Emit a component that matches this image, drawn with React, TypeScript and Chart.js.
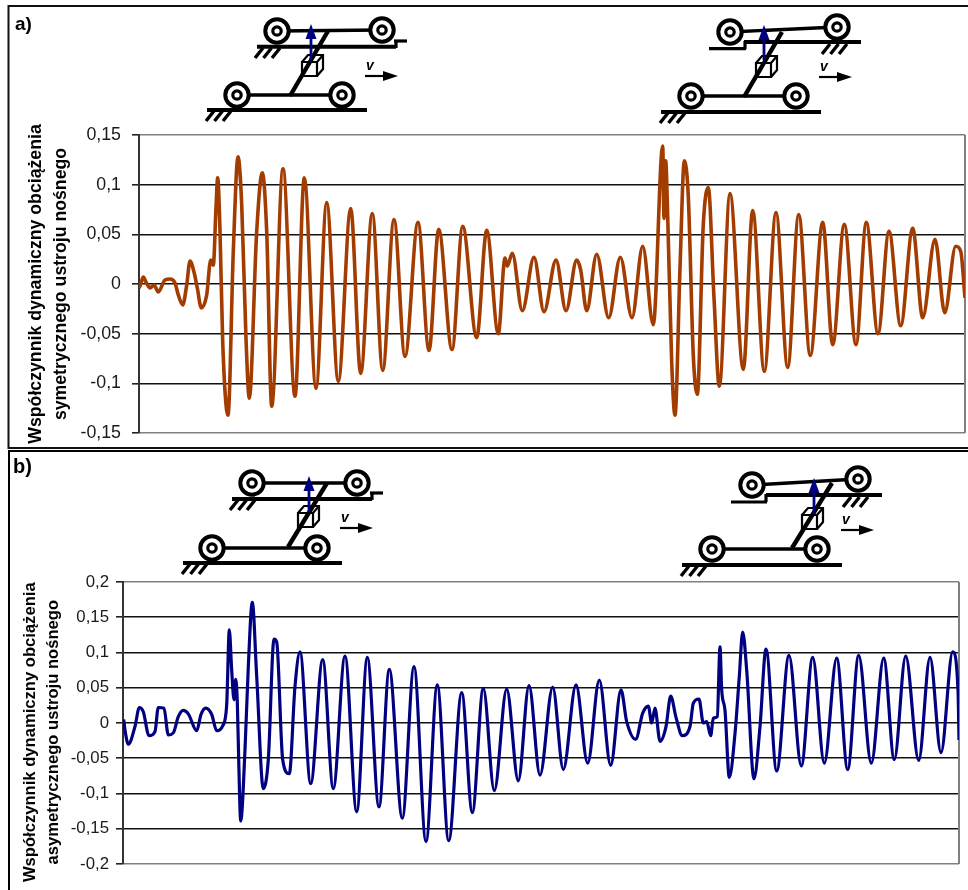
import React, { useEffect, useRef } from "react";
import { Chart, registerables } from "chart.js";

Chart.register(...registerables);

// ---- Chart a) symmetric carrier ----
const symSamples = [
  0, 1.7, 4.3, 7, 11, 15, 19.3, 26, 31, 36, 39.3, 43.7, 47.7, 51, 55, 58.3, 62.3, 67.7, 71.7, 74.3,
  77, 78.7, 81, 83.7, 89, 94.3, 99, 102.7, 107, 110.3, 117.7, 123.3, 127.7, 132.7, 144, 156, 165.3, 177, 187.7,
  199.3, 211.7, 221.7, 233.3, 243.7, 255, 266, 279, 290, 299.7, 313, 323.7, 337.7, 347.7, 359.3,
  366, 368.3, 373.3, 383.3, 395, 405, 417, 427, 437.7, 441.7, 447.7, 457.7, 469.7, 481.3, 493, 503.7,
  514.3, 523.7, 525, 526.7, 528.3, 532.7, 536, 541, 545.3, 549.3, 554.3, 558.3, 564.3, 569.3, 575, 580.3,
  591, 604.3, 613.7, 625.3, 637, 648.7, 659.7, 671.3, 683.7, 693.7, 705.3, 717, 727.3, 739, 750, 761.7,
  773.7, 783.7, 796, 805.7, 816.7, 821.7, 826,
];
const symValues = [
  -0.004, 0, 0.007, 0.002, -0.004, -0.001, -0.008, 0.004, 0.005, 0.001, -0.011, -0.021, -0.001, 0.023, 0.012, -0.004, -0.024, -0.011, 0.024, 0.019,
  0.077, 0.107, 0.053, -0.058, -0.132, 0.033, 0.128, 0.08, -0.055, -0.115, 0.053, 0.112, 0.053, -0.123, 0.116, -0.113, 0.107, -0.105, 0.082,
  -0.098, 0.076, -0.09, 0.071, -0.087, 0.065, -0.073, 0.062, -0.067, 0.055, -0.066, 0.058, -0.054, 0.054, -0.05,
  0.026, 0.018, 0.031, -0.027, 0.027, -0.028, 0.024, -0.027, 0.024, 0.014, -0.027, 0.03, -0.034, 0.027, -0.034, 0.038,
  -0.041, 0.139, 0.066, 0.124, 0.083, -0.079, -0.132, 0.016, 0.124, 0.088, -0.072, -0.111, 0.06, 0.097, -0.014, -0.103,
  0.091, -0.086, 0.074, -0.088, 0.072, -0.084, 0.07, -0.072, 0.062, -0.061, 0.06, -0.061, 0.062, -0.05, 0.053, -0.042,
  0.056, -0.034, 0.045, -0.029, 0.038, 0.033, -0.014,
];

// ---- Chart b) asymmetric carrier ----
const asymSamples = [
  0.7, 2, 5.3, 12, 16.3, 20.3, 26, 32, 35.3, 41, 45.3, 50.3, 55.3, 60.3, 65.3, 73.7, 78, 82.7, 88.7, 93.7, 99.7, 103.7,
  106.3, 108.7, 111, 112.7, 114.3, 115.7, 117.7, 122, 125.3, 129.3, 133.7, 140.3, 145.3, 151, 153.7, 159.7, 166.3, 172, 177, 187.7,
  199.7, 210.3, 222, 233.7, 244.3, 256, 266.3, 279.3, 291, 303, 314.3, 325.7, 338.7, 349.3, 360.3, 371.3, 383.7, 395.3,
  406, 417, 429.7, 440.3, 453, 464.7, 476.3, 487.7, 498, 503.7, 512.7, 519.7, 525.3, 528.7, 532, 537, 543, 547.7, 553,
  559.3, 567, 570.3, 576, 580.3, 583.7, 587.7, 590.3, 594.3, 597, 598.7, 602, 606.3, 612, 616.3, 619.7, 623.7, 631, 637,
  643, 653.7, 666, 678.3, 689.7, 701.3, 713.7, 724.7, 735.7, 748.3, 760.7, 771.3, 782.7, 795.7, 807, 818, 829.7, 835, 836,
];
const asymValues = [
  0.005, -0.01, -0.03, -0.005, 0.022, 0.016, -0.018, -0.012, 0.022, 0.021, -0.017, -0.014, 0.009, 0.018, 0.013, -0.011, 0.012, 0.021, 0.012, -0.011, -0.004, 0.026,
  0.132, 0.075, 0.033, 0.062, 0.03, -0.052, -0.139, -0.038, 0.08, 0.171, 0.066, -0.093, -0.052, 0.119, 0.115, -0.052, -0.072, 0.052, 0.101, -0.086,
  0.09, -0.093, 0.095, -0.126, 0.093, -0.119, 0.076, -0.135, 0.08, -0.168, 0.054, -0.167, 0.043, -0.127, 0.049, -0.096, 0.048, -0.082,
  0.053, -0.074, 0.051, -0.066, 0.054, -0.057, 0.061, -0.06, 0.047, 0.002, -0.023, 0.014, 0.024, 0, 0.021, -0.026, -0.005, 0.038, 0.008,
  -0.018, -0.005, 0.028, 0.034, 0, 0.002, -0.018, 0.007, 0.009, 0.108, 0.047, 0.018, -0.077, -0.015, 0.066, 0.129, 0.075, -0.079, -0.005,
  0.105, -0.068, 0.096, -0.061, 0.093, -0.057, 0.092, -0.066, 0.096, -0.057, 0.092, -0.052, 0.095, -0.053, 0.093, -0.042, 0.101, 0.047, -0.024,
];

const symTitle = ["Współczynnik dynamiczny obciążenia", "symetrycznego ustroju nośnego"];
// trailing spaces move the centred title slightly down along the axis, as in the picture
const asymTitle = ["Współczynnik dynamiczny obciążenia    ", "asymetrycznego ustroju nośnego    "];

const FONT = "'Liberation Sans', Arial, sans-serif";

const pairs = (xs: number[], ys: number[]) => xs.map((x, i) => ({ x, y: ys[i] }));
const commaLabel = (v: number | string) => String(+Number(v).toFixed(2)).replace(".", ",");

const rightBorder = {
  id: "rightBorder",
  beforeDatasetsDraw(chart: any) {
    const { ctx, chartArea: a } = chart;
    ctx.save();
    ctx.strokeStyle = "#808080";
    ctx.lineWidth = 2;
    ctx.beginPath();
    ctx.moveTo(a.right, a.top);
    ctx.lineTo(a.right, a.bottom);
    ctx.stroke();
    ctx.restore();
  },
};

type PanelProps = {
  top: number;
  height: number;
  xs: number[];
  ys: number[];
  color: string;
  lineWidth: number;
  xMax: number;
  yLimit: number;
  step: number;
  title: string[];
  axisWidth: number;
  pad: { top: number; bottom: number; right: number };
  titleFont: number;
  titleLine: number;
  titlePad: number;
  tickFont: number;
  tickPad: number;
};

function Panel(p: PanelProps) {
  const ref = useRef<HTMLCanvasElement>(null);
  useEffect(() => {
    const chart = new Chart(ref.current as HTMLCanvasElement, {
      type: "line",
      data: {
        datasets: [
          {
            data: pairs(p.xs, p.ys),
            borderColor: p.color,
            borderWidth: p.lineWidth,
            pointRadius: 0,
            cubicInterpolationMode: "monotone",
            fill: false,
          },
        ],
      },
      options: {
        animation: false,
        responsive: false,
        events: [],
        layout: { padding: { top: p.pad.top, bottom: p.pad.bottom, right: p.pad.right, left: 0 } },
        plugins: { legend: { display: false }, tooltip: { enabled: false }, title: { display: false } },
        scales: {
          x: { type: "linear", display: false, min: 0, max: p.xMax },
          y: {
            min: -p.yLimit,
            max: p.yLimit,
            afterFit(scale: any) {
              scale.width = p.axisWidth;
              scale.paddingTop = 0;
              scale.paddingBottom = 0;
            },
            ticks: {
              stepSize: p.step,
              padding: p.tickPad,
              color: "#1a1a1a",
              font: { family: FONT, size: p.tickFont },
              callback: (v: number | string) => commaLabel(v),
            },
            grid: {
              color: (c: any) =>
                c.index === 0 || c.index === Math.round((2 * p.yLimit) / p.step) ? "#808080" : "#111111",
              lineWidth: 1.6,
              tickColor: "#222222",
              tickLength: 7,
            },
            border: { color: "#333333", width: 2 },
            title: {
              display: true,
              text: p.title,
              color: "#000000",
              font: { family: FONT, size: p.titleFont, weight: "bold", lineHeight: `${p.titleLine}px` },
              padding: { top: p.titlePad, bottom: 0 },
            },
          },
        },
      },
      plugins: [rightBorder],
    } as any);
    return () => chart.destroy();
  }, []);
  return (
    <canvas
      ref={ref}
      width={968}
      height={p.height}
      style={{ position: "absolute", left: 0, top: p.top, width: 968, height: p.height, display: "block" }}
    />
  );
}

type SchematicProps = {
  upL: [number, number];
  upR: [number, number];
  lowL: [number, number];
  lowR: [number, number];
  rail: [number, number, number];
  step: number[][];
  hatchUp: [number, number];
  lowRail: [number, number, number];
  link: [number, number, number, number];
  cube: [number, number];
  arrowX: number;
  arrowY: [number, number];
  v: [number, number];
};

function Wheel({ c }: { c: [number, number] }) {
  return (
    <g>
      <circle cx={c[0]} cy={c[1]} r={11.7} fill="#fff" stroke="#000" strokeWidth={4} />
      <circle cx={c[0]} cy={c[1]} r={4.2} fill="#fff" stroke="#000" strokeWidth={3.2} />
    </g>
  );
}

function Hatch({ x, y }: { x: number; y: number }) {
  return (
    <g stroke="#000" strokeWidth={3.4}>
      {[0, 8.5, 17].map((d) => (
        <line key={d} x1={x + d} y1={y} x2={x + d - 8} y2={y + 10} />
      ))}
    </g>
  );
}

function Schematic(s: SchematicProps) {
  const [cx, cy] = s.cube;
  return (
    <g fill="none" strokeLinecap="butt">
      <line x1={s.rail[0]} y1={s.rail[2]} x2={s.rail[1]} y2={s.rail[2]} stroke="#000" strokeWidth={4} />
      {s.step.map((l, i) => (
        <line key={i} x1={l[0]} y1={l[1]} x2={l[2]} y2={l[3]} stroke="#000" strokeWidth={3.2} />
      ))}
      <Hatch x={s.hatchUp[0]} y={s.hatchUp[1]} />
      <line x1={s.upL[0]} y1={s.upL[1]} x2={s.upR[0]} y2={s.upR[1]} stroke="#000" strokeWidth={3.4} />
      <line x1={s.lowL[0]} y1={s.lowL[1]} x2={s.lowR[0]} y2={s.lowR[1]} stroke="#000" strokeWidth={3.4} />
      <line x1={s.lowRail[0]} y1={s.lowRail[2]} x2={s.lowRail[1]} y2={s.lowRail[2]} stroke="#000" strokeWidth={4} />
      <Hatch x={s.lowRail[0] + 7} y={s.lowRail[2] + 1} />
      <Wheel c={s.upL} />
      <Wheel c={s.upR} />
      <Wheel c={s.lowL} />
      <Wheel c={s.lowR} />
      <path
        d={`M${cx} ${cy}h15v14h-15zM${cx} ${cy}l6 -7h15v14l-6 7M${cx + 15} ${cy}l6 -7`}
        stroke="#000"
        strokeWidth={2.2}
      />
      <line x1={s.link[0]} y1={s.link[1]} x2={s.link[2]} y2={s.link[3]} stroke="#000" strokeWidth={4.4} />
      <line x1={s.arrowX} y1={s.arrowY[1]} x2={s.arrowX} y2={s.arrowY[0] + 8} stroke="#000080" strokeWidth={2.8} />
      <path d={`M${s.arrowX} ${s.arrowY[0]}l5.5 15h-11z`} fill="#000080" />
      <text x={s.v[0] + 1} y={s.v[1] - 6} fontFamily={FONT} fontWeight="bold" fontStyle="italic" fontSize={14} fill="#000">
        v
      </text>
      <line x1={s.v[0]} y1={s.v[1]} x2={s.v[0] + 22} y2={s.v[1]} stroke="#000" strokeWidth={2.2} />
      <path d={`M${s.v[0] + 18} ${s.v[1] - 5}l15 5l-15 5z`} fill="#000" />
    </g>
  );
}

const schematics: SchematicProps[] = [
  {
    upL: [277, 31], upR: [382, 30], lowL: [237, 95], lowR: [342, 95],
    rail: [257, 396, 46.7], step: [[396, 48, 396, 41], [394, 41, 407, 41]], hatchUp: [263, 48],
    lowRail: [207, 367, 110], link: [328, 31, 290, 96], cube: [302, 62], arrowX: 311, arrowY: [24, 60], v: [365, 76],
  },
  {
    upL: [730, 32], upR: [837, 27], lowL: [691, 96], lowR: [796, 96],
    rail: [744, 861, 42], step: [[745, 41, 745, 49], [709, 48.7, 746, 48.7]], hatchUp: [830, 44],
    lowRail: [661, 821, 112], link: [782, 32, 744, 97], cube: [756, 63], arrowX: 764, arrowY: [25, 60], v: [819, 77],
  },
  {
    upL: [252, 483], upR: [357, 483], lowL: [212, 548], lowR: [317, 548],
    rail: [232, 372, 499], step: [[372, 500, 372, 493], [370, 493, 383, 493]], hatchUp: [238, 500],
    lowRail: [183, 342, 563], link: [327, 483, 288, 547], cube: [298, 513], arrowX: 309, arrowY: [476, 512], v: [340, 528],
  },
  {
    upL: [752, 485], upR: [858, 479], lowL: [712, 549], lowR: [817, 549],
    rail: [766, 882, 495], step: [[766, 494, 766, 502], [731, 502, 767, 502]], hatchUp: [851, 497],
    lowRail: [682, 842, 565], link: [832, 483, 792, 548], cube: [802, 515], arrowX: 814, arrowY: [478, 514], v: [841, 530],
  },
];

export default function App() {
  return (
    <div style={{ position: "absolute", left: 0, top: 0, width: 968, height: 890, overflow: "hidden", background: "#fff" }}>
      <Panel
        top={0}
        height={449}
        xs={symSamples}
        ys={symValues}
        color="#A33C00"
        lineWidth={3.6}
        xMax={826}
        yLimit={0.15}
        step={0.05}
        title={symTitle}
        axisWidth={139}
        pad={{ top: 135, bottom: 16, right: 3 }}
        titleFont={17.7}
        titleLine={25}
        titlePad={24}
        tickFont={17.8}
        tickPad={11}
      />
      <Panel
        top={449}
        height={441}
        xs={asymSamples}
        ys={asymValues}
        color="#000080"
        lineWidth={3.2}
        xMax={836}
        yLimit={0.2}
        step={0.05}
        title={asymTitle}
        axisWidth={123}
        pad={{ top: 133, bottom: 26, right: 9 }}
        titleFont={16.6}
        titleLine={23}
        titlePad={19}
        tickFont={16.8}
        tickPad={7}
      />
      <svg width={968} height={890} style={{ position: "absolute", left: 0, top: 0 }}>
        <rect x={8.5} y={6} width={1000} height={442} fill="none" stroke="#111" strokeWidth={2} />
        <rect x={9} y={451} width={1000} height={500} fill="none" stroke="#000" strokeWidth={2} />
        {schematics.map((s, i) => (
          <Schematic key={i} {...s} />
        ))}
      </svg>
      <div style={{ position: "absolute", left: 15, top: 13, font: `bold 19px ${FONT}`, color: "#000" }}>a)</div>
      <div style={{ position: "absolute", left: 13, top: 455, font: `bold 20px ${FONT}`, color: "#000" }}>b)</div>
    </div>
  );
}
